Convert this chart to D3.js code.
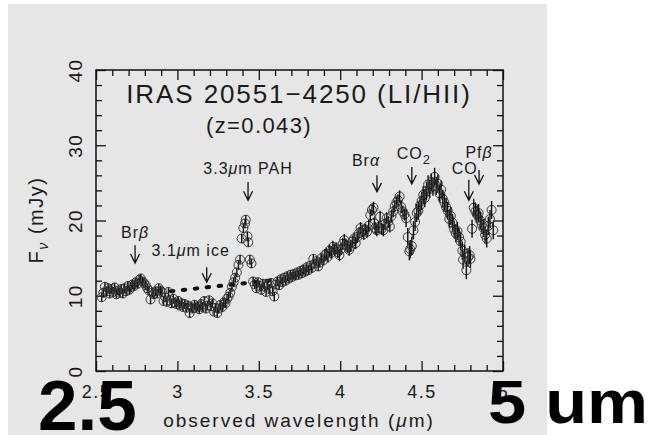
<!DOCTYPE html>
<html lang="en">
  <head>
    <meta charset="UTF-8" />
    <title>iras20551-spectrum</title>
    <style>
      body {
        margin: 0;
        background: #fff;
      }
      svg text {
        font-family: "Liberation Sans", Arial, Helvetica, sans-serif;
        fill: #1a1a1a;
      }
      .frame {
        fill: none;
        stroke: #111;
        stroke-width: 1.5;
      }
      .axis line {
        stroke: #111;
        stroke-width: 1.3;
      }
      .axis path {
        display: none;
      }
      .tick-label {
        font-size: 18px;
        letter-spacing: 1.5px;
      }
      .pt circle {
        fill: none;
        stroke: #3a3a3a;
        stroke-width: 1;
      }
      .pt line {
        stroke: #111;
        stroke-width: 1.4;
      }
      .note {
        font-size: 16px;
        letter-spacing: 1px;
      }
      .arrow {
        fill: none;
        stroke: #111;
        stroke-width: 1.3;
      }
      .big {
        font-weight: bold;
        fill: #000 !important;
      }
    </style>
  </head>
  <body>
    <script src="https://cdn.jsdelivr.net/npm/d3@7"></script>
    <script>
      // observed wavelength (um)
      const wavelength = [
        2.535, 2.545, 2.555, 2.565, 2.575, 2.585, 2.595, 2.605, 2.615, 2.625,
        2.635, 2.645, 2.655, 2.665, 2.675, 2.685, 2.695, 2.705, 2.715, 2.725,
        2.735, 2.745, 2.755, 2.765, 2.775, 2.785, 2.795, 2.805, 2.815, 2.825,
        2.835, 2.845, 2.855, 2.865, 2.875, 2.885, 2.895, 2.905, 2.915, 2.925,
        2.935, 2.945, 2.955, 2.965, 2.975, 2.985, 2.995, 3.005, 3.015, 3.025,
        3.035, 3.045, 3.055, 3.065, 3.075, 3.085, 3.095, 3.105, 3.115, 3.125,
        3.135, 3.145, 3.155, 3.165, 3.175, 3.185, 3.195, 3.205, 3.215, 3.225,
        3.235, 3.245, 3.255, 3.265, 3.275, 3.285, 3.295, 3.305, 3.315, 3.325,
        3.335, 3.345, 3.355, 3.365, 3.375, 3.385, 3.395, 3.405, 3.415, 3.42,
        3.43, 3.435, 3.445, 3.455, 3.465, 3.475, 3.485, 3.495, 3.505, 3.515,
        3.525, 3.535, 3.545, 3.555, 3.565, 3.575, 3.585, 3.595, 3.605, 3.615,
        3.625, 3.635, 3.645, 3.655, 3.665, 3.675, 3.685, 3.695, 3.705, 3.715,
        3.725, 3.735, 3.745, 3.755, 3.765, 3.775, 3.785, 3.795, 3.805, 3.815,
        3.825, 3.835, 3.845, 3.855, 3.865, 3.875, 3.885, 3.895, 3.905, 3.915,
        3.925, 3.935, 3.945, 3.955, 3.965, 3.975, 3.985, 3.995, 4.005, 4.015,
        4.025, 4.035, 4.045, 4.055, 4.065, 4.075, 4.085, 4.095, 4.105, 4.115,
        4.125, 4.135, 4.145, 4.155, 4.165, 4.175, 4.185, 4.195, 4.205, 4.21,
        4.215, 4.225, 4.235, 4.245, 4.255, 4.265, 4.275, 4.285, 4.295, 4.305,
        4.315, 4.325, 4.335, 4.345, 4.355, 4.365, 4.375, 4.385, 4.395, 4.405,
        4.415, 4.425, 4.43, 4.44, 4.45, 4.46, 4.47, 4.48, 4.49, 4.5,
        4.51, 4.52, 4.53, 4.54, 4.55, 4.56, 4.57, 4.58, 4.59, 4.6,
        4.61, 4.62, 4.63, 4.64, 4.65, 4.66, 4.67, 4.68, 4.69, 4.7,
        4.71, 4.72, 4.73, 4.74, 4.75, 4.755, 4.765, 4.775, 4.785, 4.795,
        4.8, 4.81, 4.82, 4.83, 4.84, 4.85, 4.86, 4.87, 4.88, 4.89,
        4.9, 4.91, 4.92, 4.93, 4.94
      ];
      // F_nu (mJy)
      const flux = [
        9.8, 10.4, 11.2, 10.6, 11.0, 10.3, 10.9, 10.5, 11.1, 10.2,
        10.7, 10.4, 10.9, 10.3, 11.0, 10.6, 11.3, 10.8, 11.1, 11.5,
        11.3, 11.8, 11.6, 12.1, 12.3, 11.9, 11.7, 11.4, 11.0, 10.7,
        9.5, 10.4, 10.2, 10.6, 10.3, 11.0, 10.7, 10.5, 9.3, 9.8,
        9.2, 10.5, 9.4, 9.0, 9.6, 9.1, 8.9, 9.3, 8.7, 9.0,
        8.5, 8.9, 8.4, 8.7, 7.7, 8.5, 8.3, 8.8, 8.4, 8.6,
        8.2, 8.9, 8.5, 9.3, 8.3, 8.7, 9.4, 8.6, 9.0, 7.9,
        8.4, 7.7, 8.3, 8.8, 8.5, 9.1, 9.0, 9.6, 9.9, 10.4,
        11.2, 11.8, 12.4, 13.1, 14.1, 14.8, 17.6, 19.0, 19.6, 20.1,
        17.9, 17.1, 14.8, 14.3, 11.9, 11.5, 11.0, 11.8, 11.3, 10.8,
        11.6, 11.2, 10.5, 11.4, 10.9, 11.7, 10.6, 9.9, 11.5, 11.9,
        11.4, 12.2, 11.8, 12.4, 12.0, 12.6, 12.3, 12.8, 12.5, 12.9,
        12.7, 13.1, 12.8, 13.3, 13.0, 13.5, 13.2, 13.8, 13.4, 14.0,
        13.7, 14.9, 14.3, 14.6, 13.9, 14.4, 15.0, 14.7, 15.4, 15.6,
        15.2, 16.0, 15.7, 16.5, 16.1, 16.3, 15.8, 15.4, 16.2, 16.9,
        17.4, 16.8, 16.5, 16.1, 16.6, 17.2, 17.6, 17.0, 17.8, 18.3,
        19.0, 18.6, 18.2, 18.8, 18.5, 19.3, 20.7, 21.4, 21.7, 19.6,
        19.0, 18.7, 19.1, 20.5, 18.9, 18.7, 19.5, 20.3, 19.8, 19.2,
        20.6, 21.2, 21.9, 22.4, 22.7, 23.2, 21.8, 21.2, 20.8, 20.3,
        17.8, 15.9, 16.2, 16.6, 18.7, 19.8, 21.0, 21.3, 22.0, 22.6,
        23.4, 23.0, 23.9, 24.8, 24.2, 25.1, 24.5, 25.8, 24.6, 24.9,
        23.6, 24.1, 22.9, 22.4, 21.8, 21.3, 20.2, 20.6, 19.7, 18.8,
        18.3, 18.6, 17.8, 17.2, 16.0, 14.8, 15.6, 13.4, 15.1, 15.4,
        14.9, 18.9, 21.7, 21.2, 20.8, 21.0, 20.0, 19.4, 19.0, 18.1,
        17.6, 19.3, 20.2, 21.4, 18.7
      ];
      // error bar half length (mJy) per wavelength band
      const errBands = [
        [2.5, 3.9, 0.6],
        [3.9, 4.4, 0.8],
        [4.4, 5.0, 1.2]
      ];
      // dotted continuum under the PAH feature
      const contLam = [2.96, 3.6];
      const contFlux = [10.6, 12.1];

      const xMajor = [2.5, 3, 3.5, 4, 4.5, 5];
      const yMajor = [0, 10, 20, 30, 40];

      // line annotations: arrow x (um), arrow top/tip (mJy), label shift
      const notes = [
        { parts: [["Br"], ["β", "it"]], lam: 2.74, top: 16.7, tip: 14.35, dx: 0, gap: 7 },
        { parts: [["3.1"], ["μ", "it"], ["m ice"]], lam: 3.18, top: 13.8, tip: 11.8, dx: -16, gap: 11 },
        { parts: [["3.3"], ["μ", "it"], ["m PAH"]], lam: 3.434, top: 25.1, tip: 22.7, dx: 0, gap: 8 },
        { parts: [["Br"], ["α", "it"]], lam: 4.226, top: 26.0, tip: 23.8, dx: -11, gap: 9 },
        { parts: [["CO"], ["2", "sub"]], lam: 4.44, top: 27.1, tip: 24.85, dx: 2, gap: 8 },
        { parts: [["Pf"], ["β", "it"]], lam: 4.853, top: 26.7, tip: 24.85, dx: 0, gap: 12 },
        { parts: [["CO"]], lam: 4.79, top: 25.4, tip: 22.7, dx: -4, gap: 6 }
      ];

      const W = 668;
      const H = 435;
      const mLeft = 96;
      const mRight = 503;
      const mTop = 70;
      const mBottom = 371;

      const x = d3.scaleLinear().domain([2.5, 5]).range([mLeft, mRight]);
      const y = d3.scaleLinear().domain([0, 40]).range([mBottom, mTop]);

      const svg = d3
        .select("body")
        .append("svg")
        .attr("width", W)
        .attr("height", H);

      // grey page behind the plot
      svg
        .append("rect")
        .attr("x", 8)
        .attr("y", 4)
        .attr("width", 539)
        .attr("height", H - 4)
        .attr("fill", "#e6e6e6");

      const xMinor = d3.range(25, 51).map(d => d / 10).filter(d => !xMajor.includes(d));
      const yMinor = d3.range(0, 41, 2).filter(d => !yMajor.includes(d));

      // ticks on all four sides, pointing inward
      const addAxis = (axisFn, scale, vals, size, tr, labels) =>
        svg
          .append("g")
          .attr("class", "axis")
          .attr("transform", tr)
          .call(
            axisFn(scale)
              .tickValues(vals)
              .tickSize(-size)
              .tickSizeOuter(0)
              .tickFormat(labels ? d3.format("") : "")
          );

      const xb = addAxis(d3.axisBottom, x, xMajor, 10, `translate(0,${mBottom})`, true);
      addAxis(d3.axisBottom, x, xMinor, 6, `translate(0,${mBottom})`, false);
      addAxis(d3.axisTop, x, xMajor, 10, `translate(0,${mTop})`, false);
      addAxis(d3.axisTop, x, xMinor, 6, `translate(0,${mTop})`, false);
      const yl = addAxis(d3.axisLeft, y, yMajor, 10, `translate(${mLeft},0)`, true);
      addAxis(d3.axisLeft, y, yMinor, 6, `translate(${mLeft},0)`, false);
      addAxis(d3.axisRight, y, yMajor, 10, `translate(${mRight},0)`, false);
      addAxis(d3.axisRight, y, yMinor, 6, `translate(${mRight},0)`, false);

      svg.selectAll(".axis").attr("font-family", null).attr("font-size", null);
      xb.selectAll("text")
        .attr("class", "tick-label")
        .attr("y", 27)
        .attr("dy", 0)
        .attr("text-anchor", "middle")
        .attr("fill", null);
      yl.selectAll("text")
        .attr("class", "tick-label")
        .attr("x", 0)
        .attr("y", -14)
        .attr("dy", 0)
        .attr("text-anchor", "middle")
        .attr("transform", "rotate(-90)")
        .style("font-size", "19px")
        .attr("fill", null);

      svg
        .append("rect")
        .attr("class", "frame")
        .attr("x", mLeft)
        .attr("y", mTop)
        .attr("width", mRight - mLeft)
        .attr("height", mBottom - mTop);

      // continuum (dotted)
      svg
        .append("path")
        .datum(d3.zip(contLam, contFlux))
        .attr("d", d3.line().x(d => x(d[0])).y(d => y(d[1])))
        .attr("fill", "none")
        .attr("stroke", "#111")
        .attr("stroke-width", 4)
        .attr("stroke-linecap", "round")
        .attr("stroke-dasharray", "2.5 9.5");

      const errOf = lam => errBands.find(b => lam >= b[0] && lam < b[1])[2];
      const pts = svg
        .append("g")
        .selectAll("g")
        .data(d3.zip(wavelength, flux))
        .join("g")
        .attr("class", "pt")
        .attr("transform", d => `translate(${x(d[0])},${y(d[1])})`);
      pts.append("circle").attr("r", 4.5);
      pts
        .append("line")
        .attr("y1", d => y(d[1] - errOf(d[0])) - y(d[1]))
        .attr("y2", d => y(d[1] + errOf(d[0])) - y(d[1]));

      // annotations
      notes.forEach(n => {
        const ax = x(n.lam);
        const y0 = y(n.top);
        const y1 = y(n.tip);
        svg
          .append("path")
          .attr("class", "arrow")
          .attr("d", `M${ax},${y0}V${y1}M${ax - 4.5},${y1 - 9}L${ax},${y1}L${ax + 4.5},${y1 - 9}`);
        const t = svg
          .append("text")
          .attr("class", "note")
          .attr("x", ax + n.dx)
          .attr("y", y0 - n.gap)
          .attr("text-anchor", "middle");
        n.parts.forEach(p => {
          const s = t.append("tspan").text(p[0]);
          if (p[1] === "it") s.style("font-style", "italic");
          if (p[1] === "sub") s.attr("dy", 5).style("font-size", "13px");
        });
      });

      // title
      svg
        .append("text")
        .attr("x", 299)
        .attr("y", 103)
        .attr("text-anchor", "middle")
        .style("font-size", "26px")
        .style("letter-spacing", "1.9px")
        .text("IRAS 20551\u22124250 (LI/HII)");
      svg
        .append("text")
        .attr("x", 259)
        .attr("y", 133)
        .attr("text-anchor", "middle")
        .style("font-size", "22px")
        .style("letter-spacing", "1.4px")
        .text("(z=0.043)");

      // axis titles
      svg
        .append("text")
        .attr("x", 299)
        .attr("y", 427)
        .attr("text-anchor", "middle")
        .style("font-size", "19px")
        .style("letter-spacing", "2px")
        .text("observed wavelength (")
        .call(t => t.append("tspan").style("font-style", "italic").text("μ"))
        .call(t => t.append("tspan").text("m)"));

      const yt = svg
        .append("text")
        .attr("transform", "translate(43,220) rotate(-90)")
        .attr("text-anchor", "middle")
        .style("font-size", "20px")
        .style("letter-spacing", "1.5px");
      yt.append("tspan").text("F");
      yt.append("tspan").attr("dy", 5).style("font-size", "14px").style("font-style", "italic").text("ν");
      yt.append("tspan").attr("dy", -5).text(" (mJy)");

      // big overlay labels
      svg
        .append("text")
        .attr("class", "big")
        .attr("x", 38)
        .attr("y", 430)
        .style("font-size", "71px")
        .text("2.5");
      svg
        .append("text")
        .attr("class", "big")
        .attr("x", 488)
        .attr("y", 423)
        .style("font-size", "61px")
        .attr("textLength", 160)
        .attr("lengthAdjust", "spacingAndGlyphs")
        .text("5 um");
    </script>
  </body>
</html>
